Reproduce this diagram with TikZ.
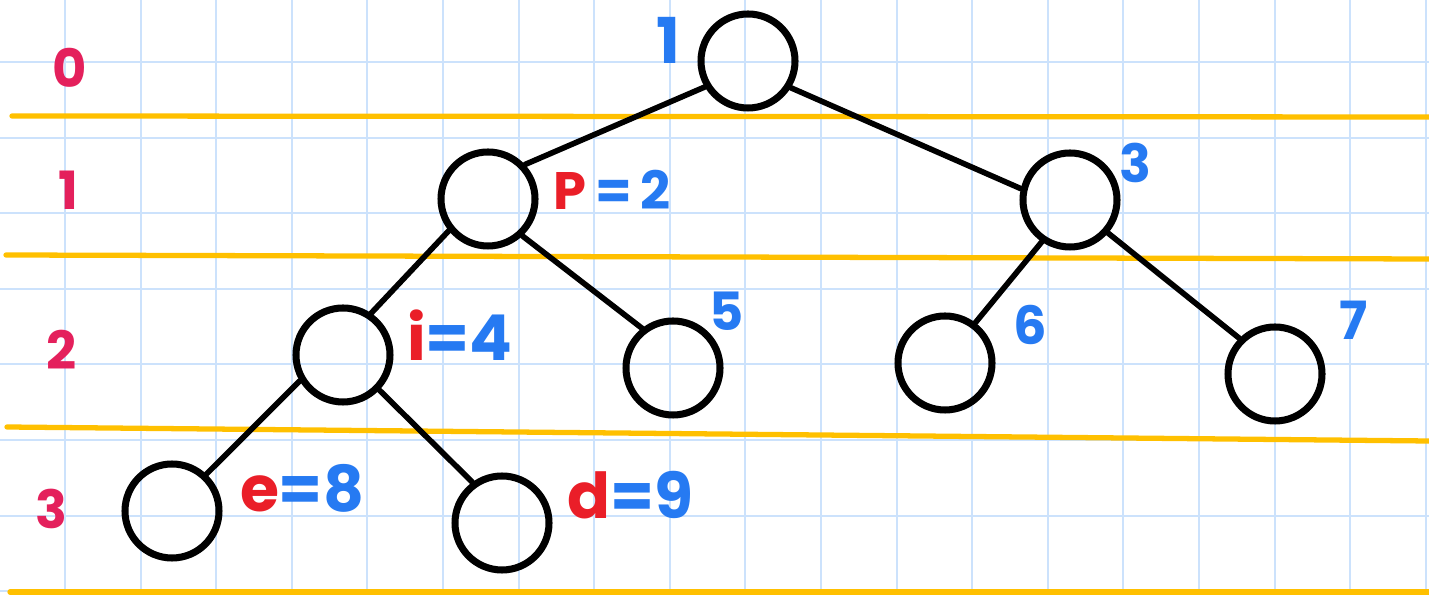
\documentclass[tikz,border=0pt]{standalone}
\usepackage{fontspec}
\setmainfont{Poppins}
\usepackage{xcolor}
\definecolor{gridblue}{RGB}{204,226,252}
\definecolor{marker}{RGB}{255,192,0}
\definecolor{inkblue}{RGB}{38,122,242}
\definecolor{inkred}{RGB}{234,30,40}
\definecolor{lvlpink}{RGB}{228,32,92}

\begin{document}
\begin{tikzpicture}[line cap=round,
  vertex/.style={circle,draw=black,line width=2pt,minimum size=0.94cm,inner sep=0pt},
  edge/.style={line width=1.6pt},
  levelline/.style={marker,line width=1.5pt},
  lvl/.style={text=lvlpink,font=\fontsize{15}{15}\selectfont\bfseries},
  num/.style={text=inkblue,font=\fontsize{15}{15}\selectfont\bfseries},
  bignum/.style={text=inkblue,font=\fontsize{18}{18}\selectfont\bfseries}]
\useasboundingbox (0,0) rectangle (14.29,5.95);
\begin{scope}
\clip (0,0) rectangle (14.29,5.95);
\draw[gridblue,line width=0.6pt,shift={(0.65,5.33)}] (-1.512,-6.048) grid[step=0.756] (14.364,1.512);
\end{scope}
\draw[levelline] (0.12,4.79) -- (14.29,4.78);
\draw[levelline] (0.06,3.40) -- (14.29,3.36);
\draw[levelline] (0.07,1.68) -- (14.29,1.54);
\draw[levelline] (0.10,0.03) -- (14.29,0.03);
\node[lvl] (d0) at (0.70,5.27) {0};
\node[lvl] (d1) at (0.68,4.05) {1};
\node[lvl] (d2) at (0.62,2.45) {2};
\node[lvl] (d3) at (0.51,0.86) {3};
\node[vertex] (root) at (7.48,5.34) {};
\node[vertex] (n2) at (4.88,3.96) {};
\node[vertex] (n3) at (10.70,3.95) {};
\node[vertex] (n4) at (3.43,2.40) {};
\node[vertex] (n5) at (6.73,2.27) {};
\node[vertex] (n6) at (9.45,2.32) {};
\node[vertex] (n7) at (12.75,2.21) {};
\node[vertex] (n8) at (1.72,0.84) {};
\node[vertex] (n9) at (5.02,0.72) {};
\draw[edge] (root.211) -- (n2.43);
\draw[edge] (root.328) -- (n3.167);
\draw[edge] (n2.219) -- (n4.56);
\draw[edge] (n2.313) -- (n5.128);
\draw[edge] (n3.236) -- (n6.53);
\draw[edge] (n3.319) -- (n7.135);
\draw[edge] (n4.211) -- (n8.47);
\draw[edge] (n4.316) -- (n9.126);
\node[bignum] (l1) at (6.68,5.55) {1};
\node[num] (l2) at (6.12,4.05) {\textcolor{inkred}{P}\,=\,2};
\node[num] (l3) at (11.35,4.32) {3};
\node[bignum] (l4) at (4.60,2.60) {\textcolor{inkred}{i}=4};
\node[num] (l5) at (7.27,2.84) {5};
\node[num] (l6) at (10.30,2.70) {6};
\node[num] (l7) at (13.54,2.75) {7};
\node[bignum] (l8) at (3.02,1.07) {\textcolor{inkred}{e}=8};
\node[bignum] (l9) at (6.30,1.00) {\textcolor{inkred}{d}=9};
\end{tikzpicture}
\end{document}
